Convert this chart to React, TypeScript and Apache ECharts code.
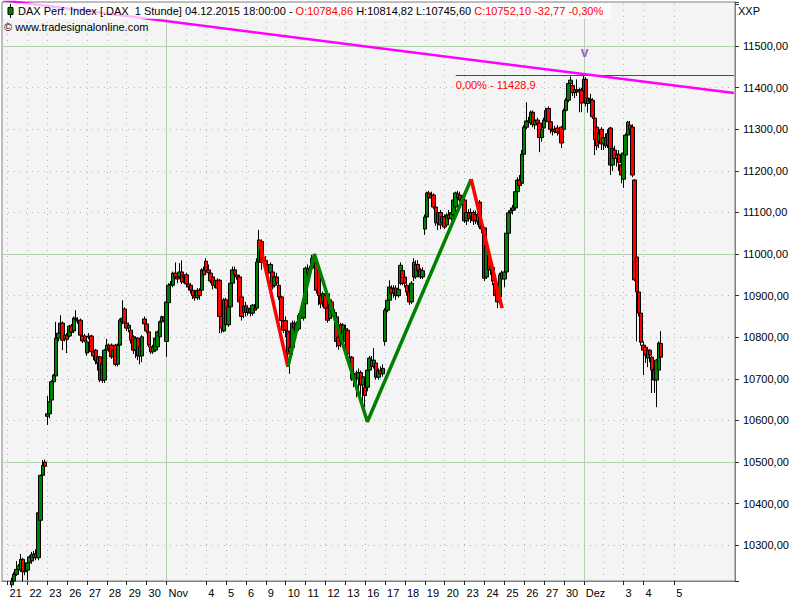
import { useEffect, useRef } from 'react';
import * as echarts from 'echarts';

type Bar = [number, number, number, number]; // open, close, low, high

// Oct 20 (last two bars, below visible range)
const oct20: Bar[] = [[10195,10190,10180,10205],[10190,10200,10185,10208]];
const oct21: Bar[] = [[10200,10195,10185,10210],[10195,10205,10190,10212],[10205,10214,10198,10222],[10214,10230,10210,10235],[10230,10242,10226,10262],[10242,10250,10232,10255],[10240,10266,10236,10279],[10266,10236,10214,10270],[10236,10240,10228,10246]];
const oct22: Bar[] = [[10240,10258,10216,10262],[10258,10272,10254,10276],[10262,10278,10255,10284],[10278,10270,10262,10286],[10270,10280,10264,10290],[10270,10378,10264,10380],[10360,10468,10340,10470],[10468,10492,10462,10505],[10500,10490,10484,10506]];
const oct23: Bar[] = [[10610,10616,10589,10659],[10616,10645,10605,10650],[10649,10693,10645,10697],[10693,10709,10688,10712],[10707,10798,10705,10837],[10798,10810,10790,10815],[10810,10834,10805,10853],[10834,10793,10769,10838],[10796,10805,10790,10810]];
const oct26: Bar[] = [[10805,10795,10762,10810],[10803,10827,10800,10830],[10827,10812,10808,10832],[10815,10846,10810,10850],[10846,10843,10838,10865],[10841,10838,10832,10848],[10841,10805,10798,10845],[10803,10791,10786,10808],[10803,10792,10788,10808]];
const oct27: Bar[] = [[10762,10789,10755,10795],[10800,10803,10795,10810],[10803,10765,10760,10806],[10765,10755,10745,10770],[10769,10743,10735,10772],[10753,10737,10720,10758],[10753,10697,10692,10755],[10736,10697,10690,10738],[10697,10769,10690,10772]];
const oct28: Bar[] = [[10769,10781,10765,10796],[10781,10772,10765,10785],[10781,10753,10748,10785],[10753,10769,10745,10772],[10781,10735,10730,10784],[10735,10781,10730,10785],[10781,10841,10778,10845],[10837,10846,10832,10889],[10868,10834,10828,10872]];
const oct29: Bar[] = [[10834,10822,10815,10840],[10822,10829,10812,10835],[10817,10793,10785,10822],[10801,10769,10760,10805],[10769,10798,10750,10802],[10798,10755,10745,10800],[10755,10777,10735,10785],[10755,10801,10740,10805],[10844,10832,10820,10850]];
const oct30: Bar[] = [[10832,10815,10810,10836],[10813,10781,10776,10816],[10777,10765,10760,10780],[10765,10777,10760,10782],[10769,10798,10765,10801],[10777,10813,10774,10816],[10801,10837,10798,10840],[10837,10849,10834,10852],[10849,10840,10830,10853]];
const nov02: Bar[] = [[10790,10885,10753,10890],[10883,10925,10878,10930],[10925,10928,10915,10935],[10925,10954,10920,10958],[10954,10945,10940,10980],[10945,10940,10930,10950],[10945,10957,10940,10978],[10957,10933,10928,10985],[10945,10950,10930,10955]];
const nov03: Bar[] = [[10950,10928,10920,10955],[10928,10921,10912,10935],[10925,10913,10905,10930],[10913,10900,10892,10918],[10900,10895,10888,10910],[10895,10913,10890,10918],[10913,10900,10890,10918],[10913,10962,10908,10966],[10962,10950,10945,10970]];
const nov04: Bar[] = [[10983,10960,10950,10990],[10962,10955,10945,10975],[10954,10935,10930,10958],[10945,10925,10915,10950],[10925,10937,10918,10945],[10937,10918,10910,10942],[10937,10850,10810,10940],[10850,10822,10810,10860],[10815,10890,10812,10894]];
const nov05: Bar[] = [[10890,10830,10822,10895],[10830,10873,10825,10878],[10873,10930,10868,10935],[10930,10962,10925,10970],[10962,10950,10945,10970],[10950,10945,10938,10962],[10945,10885,10875,10950],[10897,10850,10840,10900],[10860,10875,10846,10880]];
const nov06: Bar[] = [[10875,10860,10850,10885],[10860,10870,10852,10877],[10868,10858,10850,10875],[10858,10877,10852,10880],[10870,10865,10858,10880],[10870,10981,10865,10990],[10981,11034,10975,11058],[11030,10980,10962,11035],[10985,10990,10970,10998]];
const nov09: Bar[] = [[10985,10970,10962,10995],[10975,10954,10948,10981],[10955,10975,10945,10980],[10957,10921,10915,10962],[10925,10945,10920,10954],[10945,10930,10925,10955],[10925,10897,10890,10930],[10897,10840,10830,10900],[10840,10817,10810,10873]];
const nov10: Bar[] = [[10840,10817,10800,10850],[10815,10760,10740,10820],[10765,10775,10712,10790],[10775,10834,10757,10840],[10834,10822,10810,10840],[10822,10830,10815,10838],[10820,10853,10815,10858],[10853,10846,10835,10860],[10846,10882,10840,10888]];
const nov11: Bar[] = [[10880,10966,10875,10970],[10966,10954,10945,10975],[10958,10965,10950,10972],[10966,10990,10960,10998],[10990,10975,10965,10998],[10978,10913,10905,10982],[10962,10900,10877,10965],[10900,10880,10870,10906],[10885,10905,10873,10910]];
const nov12: Bar[] = [[10900,10870,10860,10915],[10870,10841,10835,10880],[10845,10890,10840,10906],[10885,10860,10855,10890],[10860,10850,10840,10868],[10849,10790,10776,10852],[10800,10780,10770,10834],[10830,10790,10776,10835],[10790,10830,10786,10834]];
const nov13: Bar[] = [[10790,10820,10785,10830],[10817,10760,10752,10822],[10752,10740,10730,10760],[10752,10700,10695,10755],[10700,10712,10680,10720],[10714,10702,10656,10720],[10700,10715,10675,10725],[10715,10685,10660,10720],[10685,10705,10632,10710]];
const nov16: Bar[] = [[10680,10660,10632,10690],[10680,10721,10670,10725],[10721,10750,10715,10755],[10745,10730,10722,10755],[10730,10745,10725,10774],[10738,10704,10698,10742],[10704,10720,10698,10725],[10720,10712,10705,10730],[10712,10725,10705,10735]];
const nov17: Bar[] = [[10790,10865,10780,10870],[10865,10889,10860,10895],[10889,10921,10885,10937],[10918,10906,10900,10925],[10906,10918,10895,10925],[10918,10900,10890,10925],[10900,10915,10895,10930],[10930,10973,10925,10980],[10960,10930,10925,10965]];
const nov18: Bar[] = [[10945,10930,10920,10960],[10925,10909,10900,10930],[10909,10885,10878,10912],[10885,10930,10880,10935],[10980,10945,10935,10990],[10945,10975,10940,10985],[10975,10960,10950,10985],[10962,10945,10940,10966],[10945,10960,10940,10968]];
const nov19: Bar[] = [[11060,11089,11046,11095],[11089,11147,11085,11150],[11147,11135,11128,11152],[11135,11142,11125,11150],[11142,11113,11108,11146],[11113,11075,11068,11116],[11075,11100,11058,11108],[11100,11070,11060,11106],[11075,11090,11065,11095]];
const nov20: Bar[] = [[11090,11065,11060,11095],[11070,11094,11065,11098],[11094,11085,11078,11106],[11085,11100,11080,11106],[11094,11130,11090,11135],[11113,11147,11108,11150],[11145,11135,11128,11152],[11142,11130,11125,11150],[11135,11125,11118,11142]];
const nov23: Bar[] = [[11130,11080,11075,11135],[11080,11100,11070,11110],[11100,11085,11078,11108],[11090,11100,11075,11110],[11100,11080,11070,11105],[11095,11080,11072,11105],[11095,11078,11070,11100],[11125,11065,11060,11130],[11070,11060,11050,11080]];
const nov24: Bar[] = [[11063,10942,10935,11065],[10945,11020,10940,11026],[10998,10962,10955,11002],[10962,10970,10950,10975],[10968,10935,10925,10973],[10930,10900,10885,10933],[10915,10885,10870,10920],[10897,10950,10880,10955],[10940,10955,10915,10960]];
const nov25: Bar[] = [[10940,10957,10920,10965],[10957,11050,10950,11055],[11050,11099,11045,11105],[11099,11105,11090,11112],[11105,11111,11095,11118],[11111,11150,11105,11155],[11150,11178,11145,11185],[11178,11165,11154,11190],[11170,11240,11165,11250]];
const nov26: Bar[] = [[11240,11305,11235,11310],[11305,11320,11300,11365],[11320,11318,11305,11330],[11315,11341,11310,11345],[11341,11312,11305,11345],[11310,11322,11300,11330],[11322,11315,11308,11328],[11315,11280,11245,11322],[11280,11300,11270,11305]];
const nov27: Bar[] = [[11303,11322,11298,11328],[11322,11345,11315,11352],[11350,11318,11312,11355],[11318,11300,11290,11325],[11300,11295,11285,11305],[11295,11300,11290,11308],[11303,11292,11285,11310],[11295,11290,11280,11300],[11305,11267,11255,11308]];
const nov30: Bar[] = [[11300,11345,11290,11350],[11345,11370,11330,11375],[11370,11410,11365,11415],[11410,11418,11400,11427],[11405,11388,11380,11412],[11388,11395,11375,11400],[11395,11390,11380,11420],[11390,11395,11341,11400],[11394,11363,11341,11400]];
const dec01: Bar[] = [[11392,11420,11385,11428.9],[11420,11362,11355,11425],[11362,11375,11340,11378],[11372,11368,11360,11385],[11370,11330,11325,11375],[11327,11275,11238,11330],[11305,11260,11250,11308],[11270,11290,11255,11300],[11300,11265,11250,11305]];
const dec02: Bar[] = [[11265,11280,11250,11300],[11280,11260,11255,11290],[11290,11262,11255,11300],[11303,11214,11190,11306],[11214,11254,11200,11258],[11250,11230,11220,11260],[11230,11240,11210,11250],[11240,11220,11200,11250],[11215,11190,11170,11220]];
const dec03: Bar[] = [[11180,11243,11159,11248],[11238,11286,11230,11290],[11286,11317,11280,11320],[11310,11300,11290,11320],[11305,11190,11185,11312],[11178,10938,10935,11180],[10993,10909,10790,10995],[10909,10858,10850,10912],[10858,10788,10780,10860]];
const dec04: Bar[] = [[10781,10769,10709,10790],[10776,10757,10738,10780],[10750,10769,10728,10772],[10769,10757,10740,10771],[10752,10721,10666,10755],[10721,10697,10666,10724],[10697,10745,10632,10748],[10721,10786,10700,10790],[10784.86,10752.10,10745.60,10814.82]];

const days: Bar[][] = [oct21, oct22, oct23, oct26, oct27, oct28, oct29, oct30, nov02, nov03, nov04, nov05, nov06, nov09, nov10, nov11, nov12, nov13, nov16, nov17, nov18, nov19, nov20, nov23, nov24, nov25, nov26, nov27, nov30, dec01, dec02, dec03, dec04];
const dayLabels = ['21','22','23','26','27','28','29','30','Nov','','4','5','6','9','10','11','12','13','16','17','18','19','20','23','24','25','26','27','30','Dez','','3','4'];
const monthStartDays = [8, 29];
const futureBars = 33;
const futureTicks: [number, string][] = [[5, '5']];

const yGridValues = [10300, 10400, 10500, 10600, 10700, 10800, 10900, 11000, 11100, 11200, 11300, 11400, 11500];
const ySolidValues = [10500, 11000, 11500];
const yMin = 10214;
const yMax = 11606;

// zigzag legs: [dayIndex, barIndex, value]
const redLeg1: [number, number, number][] = [[12, 6, 11032], [14, 1, 10729]];
const greenLegs: [number, number, number][] = [[14, 1, 10729], [15, 4, 11000], [18, 1, 10597], [23, 3, 11180]];
const redLeg2: [number, number, number][] = [[23, 3, 11180], [24, 8, 10870]];
const trendStartValue = 11610;
const trendEndValue = 11387;
const peakLevel = 11428.9;
const peakLineStart: [number, number] = [22, 5];
const peakMarker: [number, number, number] = [29, 0, 11486];

const FONT = '"Liberation Sans", Arial, sans-serif';

export default function App() {
  const ref = useRef<HTMLDivElement>(null);
  useEffect(() => {
    if (!ref.current) return;
    const chart = echarts.init(ref.current, undefined, { renderer: 'svg' });

    const categories: string[] = [];
    const candles: Bar[] = [];
    oct20.forEach((b, i) => { categories.push('pre' + i); candles.push(b); });
    days.forEach((bars, d) => bars.forEach((b, j) => { categories.push(`d${d}h${j}`); candles.push(b); }));
    for (let k = 0; k < futureBars; k++) categories.push('f' + k);
    const lastCat = 'f' + (futureBars - 1);

    const labelMap = new Map<string, string>();
    dayLabels.forEach((l, d) => { if (l) labelMap.set(`d${d}h0`, l); });
    futureTicks.forEach(([k, l]) => labelMap.set('f' + k, l));

    const cat = (d: number, j: number) => `d${d}h${j}`;
    const dotted = { color: '#a9bda9', width: 1, type: [1, 5] as number[] };
    const solid = { color: '#b6ceb2', width: 1, type: 'solid' as const };

    const vLines: any[] = [];
    dayLabels.forEach((_, d) => {
      vLines.push({ xAxis: cat(d, 0), lineStyle: monthStartDays.includes(d) ? solid : dotted });
    });
    futureTicks.forEach(([k]) => vLines.push({ xAxis: 'f' + k, lineStyle: dotted }));
    const hLines: any[] = yGridValues.map((v) => ({ yAxis: v, lineStyle: ySolidValues.includes(v) ? solid : dotted }));

    const leg = (pts: [number, number, number][]) => pts.map(([d, j, v]) => [cat(d, j), v]);

    chart.setOption({
      animation: false,
      textStyle: { fontFamily: FONT },
      grid: { left: 2, top: 2, right: 65, bottom: 19, show: true, backgroundColor: '#f4f4f4', borderColor: '#808080', borderWidth: 1 },
      xAxis: {
        type: 'category',
        data: categories,
        boundaryGap: true,
        axisLine: { show: true, lineStyle: { color: '#808080' } },
        axisTick: { show: true, alignWithLabel: true, length: 4, interval: (_i: number, v: string) => labelMap.has(v), lineStyle: { color: '#222' } },
        axisLabel: {
          interval: (_i: number, v: string) => labelMap.has(v),
          formatter: (v: string) => labelMap.get(v) ?? '',
          align: 'left',
          padding: [0, 0, 0, 2],
          margin: 6,
          color: '#000',
          fontSize: 11,
          fontFamily: FONT,
        },
        splitLine: { show: false },
      },
      yAxis: {
        type: 'value',
        position: 'right',
        min: yMin,
        max: yMax,
        splitNumber: 14,
        scale: true,
        axisLine: { show: true, lineStyle: { color: '#808080' } },
        axisTick: { show: true, length: 4, lineStyle: { color: '#333' } },
        axisLabel: {
          margin: 8,
          color: '#000',
          fontSize: 11,
          fontFamily: FONT,
          formatter: (v: number) => (yGridValues.includes(v) ? `${v},00` : ''),
        },
        splitLine: { show: false },
      },
      series: [
        {
          type: 'line',
          name: 'grid',
          data: [],
          z: 1,
          silent: true,
          markLine: {
            silent: true,
            z: 1,
            symbol: ['none', 'none'],
            label: { show: false },
            data: [...vLines, ...hLines],
          },
        },
        {
          type: 'candlestick',
          name: 'DAX',
          data: candles,
          z: 2,
          clip: true,
          barWidth: 4,
          itemStyle: { color: '#008000', color0: '#ff0000', borderColor: '#000', borderColor0: '#000', borderWidth: 1 },
          markPoint: {
            symbol: 'circle',
            symbolSize: 1,
            itemStyle: { color: 'rgba(0,0,0,0)' },
            label: { show: true, position: 'inside', formatter: 'v', color: '#9b5fd0', fontSize: 14, fontWeight: 'bold', offset: [1, 0] },
            data: [{ coord: [cat(peakMarker[0], peakMarker[1]), peakMarker[2]] }],
          },
          markLine: {
            silent: true,
            symbol: ['none', 'none'],
            lineStyle: { color: '#ff0000', width: 1, type: 'solid' },
            label: { show: true, position: 'insideStartBottom', formatter: '0,00% - 11428,9', color: '#ff0000', fontSize: 11, fontFamily: FONT, distance: [0, 4] },
            data: [[{ coord: [cat(peakLineStart[0], peakLineStart[1]), peakLevel] }, { coord: [lastCat, peakLevel] }]],
          },
        },
        {
          type: 'line', name: 'trend', z: 6, silent: true, symbol: 'none', clip: true,
          lineStyle: { color: '#ff00ff', width: 2.5 },
          data: [['pre0', trendStartValue], [lastCat, trendEndValue]],
        },
        {
          type: 'line', name: 'down1', z: 5, silent: true, symbol: 'none',
          lineStyle: { color: '#ff0000', width: 3.5 },
          data: leg(redLeg1),
        },
        {
          type: 'line', name: 'up', z: 5, silent: true, symbol: 'none',
          lineStyle: { color: '#008000', width: 3.5 },
          data: leg(greenLegs),
        },
        {
          type: 'line', name: 'down2', z: 5, silent: true, symbol: 'none',
          lineStyle: { color: '#ff0000', width: 3.5 },
          data: leg(redLeg2),
        },
      ],
      graphic: [
        { type: 'rect', z: 100, shape: { x: 3, y: 3, width: 608, height: 16 }, style: { fill: 'rgba(255,255,255,0.72)' } },
        { type: 'line', z: 101, shape: { x1: 10.5, y1: 4, x2: 10.5, y2: 18 }, style: { stroke: '#000', lineWidth: 1 } },
        { type: 'rect', z: 102, shape: { x: 8, y: 7.5, width: 5, height: 7 }, style: { fill: '#008000', stroke: '#000', lineWidth: 1 } },
        {
          type: 'text', z: 103, x: 18, y: 11,
          style: {
            text: '{k|DAX Perf. Index [.DAX  1 Stunde] 04.12.2015 18:00:00 - }{r|O:10784,86}{k| H:10814,82 L:10745,60 }{r|C:10752,10 -32,77 -0,30%}',
            rich: {
              k: { fill: '#000', fontSize: 11, fontFamily: FONT },
              r: { fill: '#ff0000', fontSize: 11, fontFamily: FONT },
            },
            verticalAlign: 'middle',
            fontSize: 11,
            fontFamily: FONT,
          },
        },
        {
          type: 'text', z: 103, x: 4, y: 27,
          style: { text: '© www.tradesignalonline.com', fill: '#000', fontSize: 11, fontFamily: FONT, verticalAlign: 'middle' },
        },
        {
          type: 'text', z: 103, x: 738, y: 11,
          style: { text: 'XXP', fill: '#000', fontSize: 11, fontFamily: FONT, verticalAlign: 'middle' },
        },
      ],
    });
    return () => chart.dispose();
  }, []);
  return <div ref={ref} style={{ position: 'fixed', left: 0, top: 0, width: 800, height: 600, background: '#fff' }} />;
}
